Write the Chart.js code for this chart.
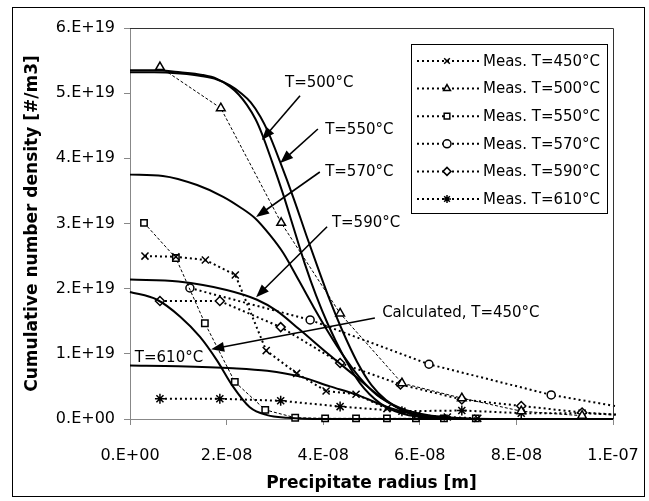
<!DOCTYPE html>
<html>
<head>
<meta charset="utf-8">
<script src="https://cdn.jsdelivr.net/npm/chart.js@4.4.1/dist/chart.umd.min.js"></script>
<style>
  html, body { margin: 0; padding: 0; background: #fff; }
  #wrap { width: 649px; height: 501px; }
</style>
</head>
<body>
<div id="wrap"><canvas id="c"></canvas></div>
<script>
// units: radius in 1e-8 m, density in 1e19 #/m3 (tick labels convert back)

// measured, T=450..610
const m450R = [0.31, 0.95, 1.56, 2.18, 2.82, 3.45, 4.06, 4.68, 5.32, 5.94, 6.57, 7.2];
const m450N = [2.50, 2.49, 2.44, 2.21, 1.05, 0.70, 0.43, 0.38, 0.16, 0.06, 0.03, 0.01];
const m500R = [0.62, 1.88, 3.13, 4.35, 5.63, 6.87, 8.1, 9.36];
const m500N = [5.40, 4.77, 3.01, 1.62, 0.55, 0.32, 0.12, 0.05];
const m550R = [0.29, 0.95, 1.55, 2.17, 2.8, 3.42, 4.04, 4.68, 5.32, 5.92, 6.5, 7.16];
const m550N = [3.01, 2.47, 1.47, 0.57, 0.14, 0.02, 0.01, 0.01, 0.01, 0.01, 0.01, 0.01];
const m570R = [1.24, 3.73, 6.19, 8.72, 11.2];
const m570N = [2.01, 1.52, 0.84, 0.37, 0.05];
const m590R = [0.62, 1.86, 3.12, 4.35, 5.6, 6.87, 8.1, 9.36, 10.6];
const m590N = [1.81, 1.81, 1.41, 0.86, 0.53, 0.30, 0.20, 0.10, 0.04];
const m610R = [0.62, 1.86, 3.12, 4.35, 5.63, 6.87, 8.1, 9.36, 10.6];
const m610N = [0.31, 0.31, 0.28, 0.19, 0.12, 0.13, 0.09, 0.09, 0.05];

// calculated curves
const c450R = [0, 0.56, 1.04, 1.45, 1.8, 2.13, 2.48, 2.84, 3.25, 4.0, 10];
const c450N = [1.95, 1.83, 1.57, 1.26, 0.9, 0.5, 0.18, 0.06, 0.02, 0, 0];
const c500R = [0, 0.5, 1.04, 1.5, 1.8, 2.07, 2.25, 2.42, 2.6, 2.73, 2.94, 3.17, 3.38, 3.62, 3.85, 4.1, 4.41, 4.76, 5.18, 5.6, 6.0, 6.5, 7.0, 10];
const c500N = [5.35, 5.35, 5.32, 5.28, 5.22, 5.1, 4.98, 4.82, 4.6, 4.38, 3.95, 3.45, 2.95, 2.38, 1.9, 1.45, 0.98, 0.55, 0.24, 0.09, 0.03, 0.01, 0, 0];
const c550R = [0, 0.5, 1.04, 1.5, 1.8, 2.07, 2.3, 2.5, 2.7, 2.85, 3.1, 3.4, 3.65, 3.9, 4.15, 4.4, 4.7, 5.0, 5.3, 5.65, 6.0, 6.5, 7.0, 10];
const c550N = [5.32, 5.32, 5.30, 5.26, 5.21, 5.12, 5.0, 4.86, 4.64, 4.42, 3.96, 3.36, 2.82, 2.3, 1.8, 1.35, 0.88, 0.52, 0.29, 0.13, 0.05, 0.01, 0, 0];
const c570R = [0, 0.68, 1.39, 1.93, 2.28, 2.59, 2.9, 3.17, 3.5, 3.8, 4.1, 4.41, 4.76, 5.11, 5.59, 6.15, 6.7, 7.5, 10];
const c570N = [3.75, 3.73, 3.59, 3.41, 3.25, 3.08, 2.82, 2.55, 2.12, 1.72, 1.34, 0.98, 0.63, 0.37, 0.17, 0.06, 0.02, 0, 0];
const c590R = [0, 1.0, 2.0, 2.63, 3.04, 3.5, 4.1, 4.76, 5.2, 5.6, 6.0, 6.5, 7.0, 10];
const c590N = [2.14, 2.11, 1.98, 1.83, 1.66, 1.38, 1.0, 0.6, 0.33, 0.15, 0.06, 0.02, 0, 0];
const c610R = [0, 1.0, 2.13, 2.84, 3.52, 4.14, 4.7, 5.38, 5.94, 6.5, 7.0, 10];
const c610N = [0.82, 0.81, 0.78, 0.74, 0.65, 0.5, 0.37, 0.17, 0.06, 0.01, 0, 0];

const xTicks = [0, 2, 4, 6, 8, 10];
const yTicks = [0, 1, 2, 3, 4, 5, 6];

// labels with arrows, in data units
const notes = [
  { text: 'T=500°C', at: [3.21, 5.16], from: [3.52, 4.96], to: [2.73, 4.28] },
  { text: 'T=550°C', at: [4.04, 4.43], from: [3.89, 4.45], to: [3.11, 3.93] },
  { text: 'T=570°C', at: [4.04, 3.79], from: [3.93, 3.79], to: [2.61, 3.10] },
  { text: 'T=590°C', at: [4.18, 3.01], from: [4.08, 2.95], to: [2.61, 1.87] },
  { text: 'Calculated, T=450°C', at: [5.22, 1.63], from: [5.07, 1.55], to: [1.68, 1.07] },
  { text: 'T=610°C', at: [0.10, 0.94] }
];

function pts(r, n) { return r.map((v, i) => ({ x: v, y: n[i] })); }

// Excel style 0.E+00
function sci(v) {
  if (Math.abs(v) < 1e-30) return '0.E+00';
  let e = Math.floor(Math.log10(Math.abs(v)) + 1e-9);
  let m = Math.round(v / Math.pow(10, e));
  return m + '.E' + (e < 0 ? '-' : '+') + String(Math.abs(e)).padStart(2, '0');
}

function meas(label, r, n, style, radius, thin) {
  return {
    label: label, data: pts(r, n), isMeas: true,
    borderColor: '#000', borderWidth: thin ? 1 : 2,
    borderDash: thin ? [3, 2] : [2, 3],
    pointStyle: style, pointRadius: radius, pointBorderWidth: 1.5,
    pointBackgroundColor: '#fff', pointBorderColor: '#000',
    tension: 0, clip: { left: 8, top: 8, right: 3, bottom: 8 }
  };
}
function calc(label, r, n) {
  return {
    label: label, data: pts(r, n),
    borderColor: '#000', borderWidth: 2, pointRadius: 0,
    cubicInterpolationMode: 'monotone', clip: 2
  };
}

const datasets = [
  calc('Calc. T=450°C', c450R, c450N),
  calc('Calc. T=500°C', c500R, c500N),
  calc('Calc. T=550°C', c550R, c550N),
  calc('Calc. T=570°C', c570R, c570N),
  calc('Calc. T=590°C', c590R, c590N),
  calc('Calc. T=610°C', c610R, c610N),
  meas('Meas. T=450°C', m450R, m450N, 'crossRot', 5, false),
  meas('Meas. T=500°C', m500R, m500N, 'triangle', 5, true),
  meas('Meas. T=550°C', m550R, m550N, 'rect', 4.5, true),
  meas('Meas. T=570°C', m570R, m570N, 'circle', 4, false),
  meas('Meas. T=590°C', m590R, m590N, 'rectRot', 4.5, false),
  meas('Meas. T=610°C', m610R, m610N, 'star', 5, false)
];

function arrow(ctx, x0, y0, x1, y1) {
  const a = Math.atan2(y1 - y0, x1 - x0), L = 13, W = 5;
  const c = Math.cos(a), s = Math.sin(a);
  ctx.beginPath();
  ctx.moveTo(x0, y0);
  ctx.lineTo(x1 - L * 0.7 * c, y1 - L * 0.7 * s);
  ctx.stroke();
  ctx.beginPath();
  ctx.moveTo(x1, y1);
  ctx.lineTo(x1 - L * c + W * s, y1 - L * s - W * c);
  ctx.lineTo(x1 - L * c - W * s, y1 - L * s + W * c);
  ctx.closePath();
  ctx.fill();
}

const decor = {
  id: 'decor',
  beforeDraw(chart) {
    const ctx = chart.ctx;
    ctx.save();
    ctx.fillStyle = '#fff';
    ctx.fillRect(0, 0, chart.width, chart.height);
    ctx.restore();
  },
  afterDatasetsDraw(chart) {
    const { ctx, chartArea: a, scales: { x, y } } = chart;
    ctx.save();
    // plot frame top/right
    ctx.strokeStyle = '#333';
    ctx.lineWidth = 1;
    ctx.beginPath();
    ctx.moveTo(a.left, a.top + 0.5);
    ctx.lineTo(a.right + 0.5, a.top + 0.5);
    ctx.lineTo(a.right + 0.5, a.bottom);
    ctx.stroke();
    // annotations
    ctx.fillStyle = '#000';
    ctx.strokeStyle = '#000';
    ctx.lineWidth = 1.6;
    ctx.font = '15px "DejaVu Sans"';
    ctx.textBaseline = 'middle';
    ctx.textAlign = 'left';
    notes.forEach(n => {
      ctx.fillText(n.text, x.getPixelForValue(n.at[0]), y.getPixelForValue(n.at[1]));
      if (n.from) {
        arrow(ctx, x.getPixelForValue(n.from[0]), y.getPixelForValue(n.from[1]),
              x.getPixelForValue(n.to[0]), y.getPixelForValue(n.to[1]));
      }
    });
    ctx.restore();
  },
  afterDraw(chart) {
    const ctx = chart.ctx;
    ctx.save();
    // outer border
    ctx.strokeStyle = '#000';
    ctx.lineWidth = 1;
    ctx.strokeRect(12.5, 7.5, 632, 489);
    // legend
    const bx = 411, by = 44, bw = 196, bh = 169;
    ctx.fillStyle = '#fff';
    ctx.fillRect(bx, by, bw, bh);
    ctx.strokeRect(bx + 0.5, by + 0.5, bw, bh);
    ctx.font = '15px "DejaVu Sans"';
    ctx.textBaseline = 'middle';
    ctx.textAlign = 'left';
    const items = chart.data.datasets.filter(d => d.isMeas);
    items.forEach((d, i) => {
      const yy = by + 17 + i * 27.6;
      ctx.strokeStyle = '#000';
      ctx.lineWidth = 2;
      ctx.setLineDash([2, 3]);
      ctx.beginPath();
      ctx.moveTo(bx + 6, yy);
      ctx.lineTo(bx + 69, yy);
      ctx.stroke();
      ctx.setLineDash([]);
      ctx.fillStyle = '#fff';
      ctx.lineWidth = 1.5;
      Chart.helpers.drawPoint(ctx, { pointStyle: d.pointStyle, radius: 4, rotation: 0, borderWidth: 1.5 }, bx + 36, yy);
      ctx.fillStyle = '#000';
      ctx.fillText(d.label, bx + 72, yy + 1);
    });
    ctx.restore();
  }
};

Chart.defaults.font.family = '"DejaVu Sans", sans-serif';
Chart.defaults.color = '#000';

new Chart(document.getElementById('c'), {
  type: 'line',
  data: { datasets: datasets },
  options: {
    responsive: true,
    maintainAspectRatio: false,
    animation: false,
    layout: { padding: { left: 12, top: 28, right: 36, bottom: 5 } },
    plugins: { legend: { display: false }, tooltip: { enabled: false } },
    scales: {
      x: {
        type: 'linear', min: 0, max: 10,
        // fixed box; tick padding must not push the plot edges in
        afterFit: s => { s.height = 77; s.paddingLeft = 0; s.paddingRight = 0; },
        afterBuildTicks: s => { s.ticks = xTicks.map(v => ({ value: v })); },
        ticks: { font: { size: 16 }, padding: 21, maxRotation: 0, callback: v => sci(v * 1e-8) },
        grid: { drawOnChartArea: false, drawTicks: true, tickLength: 6, color: '#888' },
        border: { display: true, color: '#888', width: 1 },
        title: { display: true, text: 'Precipitate radius [m]', font: { size: 17, weight: 'bold' }, padding: { top: 0, bottom: 2 } }
      },
      y: {
        type: 'linear', min: 0, max: 6,
        afterFit: s => { s.width = 118; },
        afterBuildTicks: s => { s.ticks = yTicks.map(v => ({ value: v })); },
        ticks: { font: { size: 16 }, padding: 9, callback: v => sci(v * 1e19) },
        grid: { drawOnChartArea: false, drawTicks: true, tickLength: 6, color: '#888' },
        border: { display: true, color: '#888', width: 1 },
        title: { display: true, text: 'Cumulative number density [#/m3]', font: { size: 17, weight: 'bold' }, padding: { top: 10, bottom: 0 } }
      }
    }
  },
  plugins: [decor]
});
</script>
</body>
</html>
